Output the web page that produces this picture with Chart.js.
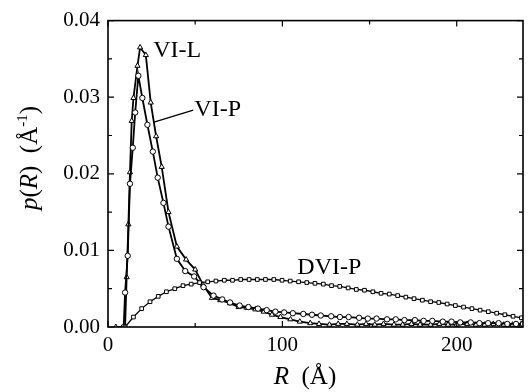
<!DOCTYPE html>
<html lang="en">
<head>
<meta charset="utf-8">
<title>p(R) | VI-L, VI-P, DVI-P</title>
<script src="https://cdn.jsdelivr.net/npm/chart.js@4.4.1/dist/chart.umd.min.js"></script>
<style>
  html, body { margin: 0; padding: 0; background: #fff; }
  #wrap { width: 531px; height: 392px; }
</style>
</head>
<body>
<div id="wrap"><canvas id="pr_chart" width="531" height="392"></canvas></div>
<script>
// tick labels
var xTicks = [0, 100, 200];
var xMinor = [50, 150];
var yTicks = [0, 0.01, 0.02, 0.03, 0.04];
var yMinor = [0.005, 0.015, 0.025, 0.035];

// VI-L (triangles)
var rVIL = [4.5, 9.8, 10.7, 11.7, 12.6, 13.6, 14.6, 16.9, 18.4, 21.7, 24.5, 27.6, 30.8, 34.7, 39.5, 44.8, 50.0,
  54.5, 59.6, 64.4, 70.0, 74.9, 79.7, 84.5, 89.3, 94.0, 98.9, 104.6, 110, 116, 121, 127, 132, 137, 143, 148,
  153, 158, 164, 169, 174, 179, 185, 190, 195, 200, 206, 211, 216, 221, 227, 232, 237];
var pVIL = [0, 0, 0.0065, 0.0134, 0.0202, 0.0269, 0.0299, 0.0341, 0.0365, 0.0355, 0.0293, 0.0249, 0.0209, 0.0150, 0.0105, 0.0088, 0.0075,
  0.0055, 0.0038, 0.0035, 0.0031, 0.0026, 0.0025, 0.0023, 0.0020, 0.0016, 0.0013, 0.0010, 0.0007, 0.0005, 0.0004, 0.0003, 0.0004, 0.0004, 0.0003, 0.0004,
  0.0003, 0.0004, 0.0003, 0.0003, 0.0004, 0.0003, 0.0003, 0.0004, 0.0003, 0.0003, 0.0004, 0.0003, 0.0003, 0.0004, 0.0003, 0.0003, 0.0004];

// VI-P (circles)
var rVIP = [9.0, 9.8, 11.3, 12.6, 14.2, 15.6, 17.4, 19.7, 22.6, 25.7, 28.5, 31.8, 34.7, 39.5, 44.3, 49.4, 54.8, 60.5, 65.5, 70,
  75.5, 80.5, 86, 91, 96, 101, 106, 112, 117, 122, 128, 133, 138, 144, 149, 154, 160, 165, 170, 176, 181, 186, 192, 197,
  202, 208, 213, 218, 224, 229, 234, 238];
var pVIP = [0, 0.0045, 0.0093, 0.0187, 0.0234, 0.0280, 0.0328, 0.0299, 0.0264, 0.0229, 0.0195, 0.0162, 0.0131, 0.0089, 0.0073, 0.0066, 0.0052, 0.0041, 0.0036, 0.0032,
  0.0028, 0.0026, 0.0024, 0.0022, 0.0020, 0.0019, 0.0018, 0.0017, 0.0016, 0.0015, 0.0014, 0.0013, 0.0013, 0.0012, 0.0011, 0.0011, 0.0010, 0.0010, 0.0009, 0.0009, 0.0008, 0.0008, 0.0007, 0.0007,
  0.0006, 0.0006, 0.0005, 0.0005, 0.0005, 0.0004, 0.0004, 0.0004];

// DVI-P (squares)
var rDVIP = [9.8, 14.6, 19.3, 24.1, 28.8, 33.5, 38.3, 43, 47.7, 52.5, 57.2, 61.9, 66.7, 71.4, 76.1, 80.9, 85.6, 90.3, 95.1, 99.8,
  104.5, 109.3, 114, 118.7, 123.5, 128.2, 132.9, 137.7, 142.4, 147.1, 151.9, 156.6, 161.3, 166.1, 170.8, 175.5, 180.3, 185,
  189.7, 194.5, 199.2, 203.9, 208.7, 213.4, 218.1, 222.9, 227.6, 232.3, 237.1];
var pDVIP = [0, 0.0013, 0.0024, 0.0033, 0.0040, 0.0046, 0.0050, 0.0054, 0.0056, 0.0058, 0.0059, 0.0060, 0.0061, 0.0061, 0.0062, 0.0062, 0.0062, 0.0062, 0.0062, 0.0061,
  0.0060, 0.0059, 0.0058, 0.0057, 0.0056, 0.0054, 0.0053, 0.0051, 0.0049, 0.0048, 0.0046, 0.0044, 0.0043, 0.0041, 0.0039, 0.0037, 0.0035, 0.0033,
  0.0032, 0.0030, 0.0028, 0.0026, 0.0024, 0.0022, 0.0020, 0.0018, 0.0016, 0.0014, 0.0012];

function pts(xs, ys) {
  return xs.map(function (x, i) { return {x: x, y: ys[i]}; });
}

var SERIF = '"Liberation Serif", "DejaVu Serif", serif';

function series(label, xs, ys, style, lw, r) {
  return {
    label: label,
    data: pts(xs, ys),
    showLine: true,
    borderColor: '#000',
    borderWidth: lw,
    backgroundColor: '#fff',
    pointStyle: style,
    pointRadius: r,
    pointBorderWidth: 1,
    pointBorderColor: '#000',
    pointBackgroundColor: '#fff',
    tension: 0
  };
}

// frame + inward ticks on all four sides
var framePlugin = {
  id: 'frame',
  afterDraw: function (chart) {
    var c = chart.ctx, a = chart.chartArea, sx = chart.scales.x, sy = chart.scales.y;
    c.save();
    c.strokeStyle = '#000';
    c.lineWidth = 1.6;
    c.strokeRect(a.left, a.top, a.right - a.left, a.bottom - a.top);
    c.lineWidth = 1.2;
    c.beginPath();
    function xt(v, len) {
      var px = sx.getPixelForValue(v);
      c.moveTo(px, a.bottom); c.lineTo(px, a.bottom - len);
      c.moveTo(px, a.top); c.lineTo(px, a.top + len);
    }
    function yt(v, len) {
      var py = sy.getPixelForValue(v);
      c.moveTo(a.left, py); c.lineTo(a.left + len, py);
      c.moveTo(a.right, py); c.lineTo(a.right - len, py);
    }
    xTicks.forEach(function (v) { xt(v, 6); });
    xMinor.forEach(function (v) { xt(v, 4); });
    yTicks.forEach(function (v) { yt(v, 6); });
    yMinor.forEach(function (v) { yt(v, 4); });
    c.stroke();
    c.restore();
  }
};

// draw a run of text pieces (mixed italic / superscript)
function drawRun(c, parts, x, y, align) {
  var total = 0;
  parts.forEach(function (p) { c.font = p.f; total += c.measureText(p.t).width; });
  var cx = align === 'center' ? x - total / 2 : x;
  parts.forEach(function (p) {
    c.font = p.f;
    c.fillText(p.t, cx, y + (p.dy || 0));
    cx += c.measureText(p.t).width;
  });
}

var textPlugin = {
  id: 'texts',
  afterDraw: function (chart) {
    var c = chart.ctx, sx = chart.scales.x, sy = chart.scales.y;
    c.save();
    c.fillStyle = '#000';
    c.textBaseline = 'alphabetic';
    c.textAlign = 'left';

    // axis titles
    var it = 'italic 25px ' + SERIF, rm = '25px ' + SERIF, sup = '15px ' + SERIF;
    drawRun(c, [{t: 'R', f: it}, {t: '  (Å)', f: rm}], 305, 384, 'center');
    c.save();
    c.translate(37, 158);
    c.rotate(-Math.PI / 2);
    drawRun(c, [{t: 'p', f: it}, {t: '(', f: rm}, {t: 'R', f: it}, {t: ')  (Å', f: rm},
      {t: '-1', f: sup, dy: -10}, {t: ')', f: rm}], 0, 0, 'center');
    c.restore();

    // curve labels
    c.font = '24px ' + SERIF;
    c.fillText('VI-L', sx.getPixelForValue(25.9), sy.getPixelForValue(0.0352));
    c.fillText('VI-P', sx.getPixelForValue(49.5), sy.getPixelForValue(0.0275));
    c.fillText('DVI-P', sx.getPixelForValue(108.6), sy.getPixelForValue(0.0069));

    // leader line to VI-P
    c.strokeStyle = '#000';
    c.lineWidth = 1.3;
    c.beginPath();
    c.moveTo(sx.getPixelForValue(25.9), sy.getPixelForValue(0.0267));
    c.lineTo(sx.getPixelForValue(48.9), sy.getPixelForValue(0.0283));
    c.stroke();
    c.restore();
  }
};

var prChart = new Chart(document.getElementById('pr_chart'), {
  type: 'scatter',
  data: {
    datasets: [
      series('DVI-P', rDVIP, pDVIP, 'rect', 1.3, 2.6),
      series('VI-P', rVIP, pVIP, 'circle', 1.8, 2.7),
      series('VI-L', rVIL, pVIL, 'triangle', 1.8, 3)
    ]
  },
  options: {
    responsive: false,
    animation: false,
    layout: { padding: { top: 16, right: 8, left: 0, bottom: 0 } },
    plugins: { legend: { display: false }, tooltip: { enabled: false } },
    scales: {
      x: {
        type: 'linear',
        min: 0,
        max: 238,
        grid: { display: false, drawTicks: false },
        border: { display: false },
        afterBuildTicks: function (s) { s.ticks = xTicks.map(function (v) { return {value: v}; }); },
        afterFit: function (s) { s.height = 65; },
        ticks: {
          color: '#000',
          padding: 6,
          maxRotation: 0,
          font: { family: SERIF, size: 21 },
          callback: function (v) { return String(v); }
        }
      },
      y: {
        type: 'linear',
        min: 0,
        max: 0.04,
        grid: { display: false, drawTicks: false },
        border: { display: false },
        afterBuildTicks: function (s) { s.ticks = yTicks.map(function (v) { return {value: v}; }); },
        afterFit: function (s) { s.width = 108; },
        ticks: {
          color: '#000',
          padding: 8,
          font: { family: SERIF, size: 21 },
          callback: function (v) { return v.toFixed(2); }
        }
      }
    }
  },
  plugins: [framePlugin, textPlugin]
});
</script>
</body>
</html>
